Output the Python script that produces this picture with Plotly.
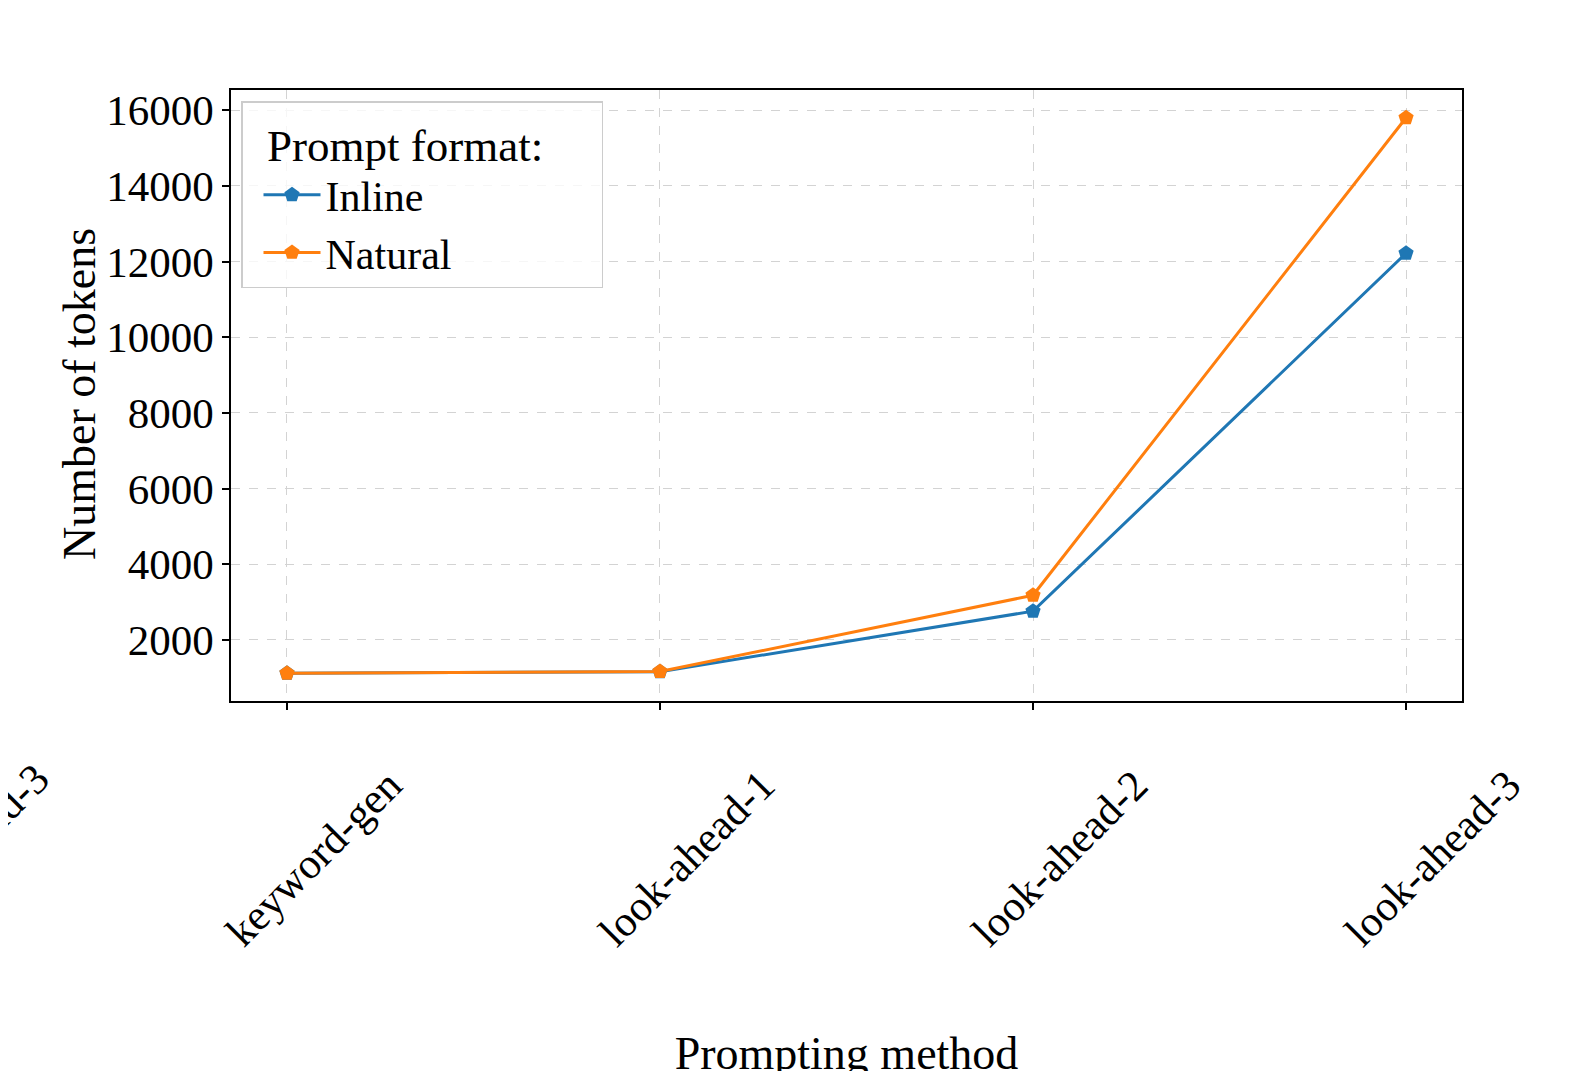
import plotly.graph_objects as go

categories = ["keyword-gen", "look-ahead-1", "look-ahead-2", "look-ahead-3"]
inline_tokens = [1120, 1160, 2760, 12220]
natural_tokens = [1120, 1165, 3180, 15800]
y_ticks = [2000, 4000, 6000, 8000, 10000, 12000, 14000, 16000]
stray_label = "look-ahead-3"
legend_title = "Prompt format:"

FONT = "Liberation Serif"
FS = 43
TS = 46

# browser body margin offset (8px) compensation
OFF = 8
L, R, T, B = 231, 1462, 90, 701  # target plot area in page pixels

fig = go.Figure()
fig.add_trace(go.Scatter(
    x=list(range(len(categories))), y=inline_tokens, name="Inline",
    mode="lines+markers", line=dict(color="#1f77b4", width=3),
    marker=dict(symbol="pentagon", size=16, color="#1f77b4")))
fig.add_trace(go.Scatter(
    x=list(range(len(categories))), y=natural_tokens, name="Natural",
    mode="lines+markers", line=dict(color="#ff7f0e", width=3),
    marker=dict(symbol="pentagon", size=16, color="#ff7f0e")))

W, H = 1572, 1071
fig.update_layout(
    width=W, height=H,
    margin=dict(l=L - OFF, r=W - (R - OFF), t=T - OFF, b=H - (B - OFF), autoexpand=False),
    paper_bgcolor="white", plot_bgcolor="white",
    font=dict(family=FONT, size=FS, color="black"),
    showlegend=True,
    legend=dict(
        title=dict(text="&nbsp;&nbsp;" + legend_title + "&nbsp;" * 5, font=dict(size=45)),
        x=(241 - L) / (R - L), y=(B - 101) / (B - T), xanchor="left", yanchor="top",
        bgcolor="rgba(255,255,255,0.8)", bordercolor="#cccccc", borderwidth=1.5,
        font=dict(size=42), itemwidth=57, tracegroupgap=0,
        indentation=16),
)

fig.update_xaxes(
    range=[-0.15, 3.15],
    tickmode="array", tickvals=list(range(len(categories))), ticktext=categories,
    tickangle=-45, ticks="outside", ticklen=7, tickwidth=1.5, tickcolor="black",
    ticklabelshift=102, ticklabelstandoff=33,
    showgrid=True, gridcolor="#d3d3d3", griddash="dash", gridwidth=1,
    showline=True, linecolor="black", linewidth=1.5, mirror=True,
    zeroline=False, automargin=False,
    title=dict(text="Prompting method", font=dict(size=TS), standoff=87),
)
fig.update_yaxes(
    range=[386, 16534],
    tickmode="array", tickvals=y_ticks, ticktext=[str(v) for v in y_ticks],
    ticks="outside", ticklen=7, tickwidth=1.5, tickcolor="black",
    showgrid=True, gridcolor="#d3d3d3", griddash="dash", gridwidth=1,
    showline=True, linecolor="black", linewidth=1.5, mirror=True,
    zeroline=False, automargin=False,
    title=dict(text="", font=dict(size=TS)),
)

fig.add_annotation(
    text="Number of tokens", xref="paper", yref="paper",
    x=(79 - L) / (R - L), y=(B - 394) / (B - T),
    xanchor="center", yanchor="middle", textangle=-90, showarrow=False,
    font=dict(family=FONT, size=TS, color="black"))

fig.add_annotation(
    text=stray_label, xref="paper", yref="paper",
    x=(61 - L) / (R - L), y=(B - 752) / (B - T),
    xanchor="right", yanchor="top", textangle=-45, showarrow=False,
    font=dict(family=FONT, size=FS, color="black"))

fig.write_html("out.html")
